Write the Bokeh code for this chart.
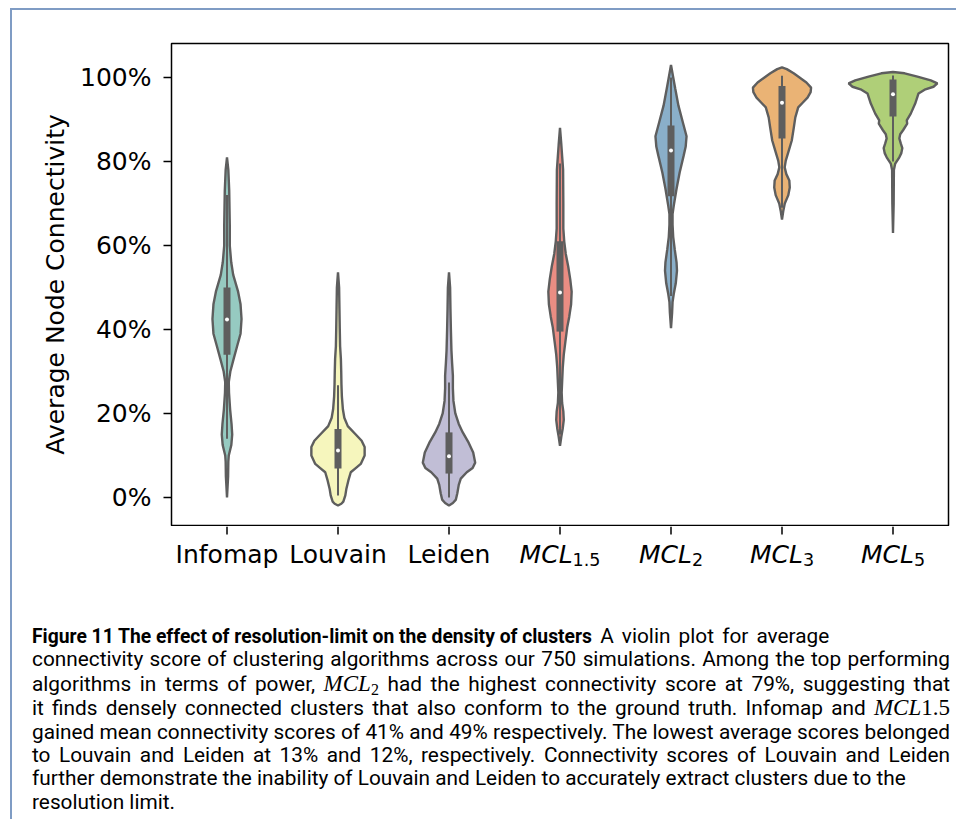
from bokeh.plotting import figure
from bokeh.models import Range1d, FixedTicker, PrintfTickFormatter, Div
from bokeh.layouts import column
from bokeh.core.properties import value
from bokeh.embed import file_html
from bokeh.resources import INLINE

# ---------------- data ----------------
categories = ["Infomap", "Louvain", "Leiden", "MCL", "MCL", "MCL", "MCL"]
subscripts = ["", "", "", "1.5", "2", "3", "5"]
colors = ["#96cac1", "#f6f6bd", "#c1bed6", "#ea8d83", "#8aafc9", "#eab375", "#afcf78"]

# violin outlines: y (%) and half-width (category units)
infomap_y = [81, 78, 73, 65, 60, 56, 53, 49, 46, 42.5, 39, 36, 33, 30, 27.5, 25, 21, 17.5, 15, 12.5, 10, 8.5, 5, 0]
infomap_w = [0, 0.012, 0.02, 0.025, 0.025, 0.038, 0.056, 0.1, 0.122, 0.131, 0.122, 0.091, 0.06, 0.03, 0.016, 0.018, 0.028, 0.041, 0.047, 0.039, 0.016, 0.012, 0.01, 0]
louvain_y = [53.6, 50, 45, 40, 36, 33, 30, 27, 24, 21, 19, 17, 15, 13.5, 12, 10, 8, 7, 6, 4, 2, 0.5, -1, -1.5, -1.9]
louvain_w = [0, 0.01, 0.013, 0.016, 0.019, 0.026, 0.029, 0.031, 0.035, 0.044, 0.057, 0.088, 0.16, 0.213, 0.24, 0.24, 0.205, 0.16, 0.115, 0.093, 0.075, 0.066, 0.048, 0.03, 0]
leiden_y = [53.6, 50, 45, 40, 35, 32, 29, 26, 23, 20, 17.5, 15.5, 13, 10.7, 8.3, 7, 6, 4.5, 3, 1, -0.5, -1.3, -1.9]
leiden_w = [0, 0.01, 0.013, 0.017, 0.022, 0.028, 0.035, 0.035, 0.04, 0.057, 0.088, 0.124, 0.178, 0.218, 0.236, 0.213, 0.16, 0.106, 0.088, 0.075, 0.062, 0.035, 0]
mcl15_y = [88, 84, 81, 78, 70, 64, 61, 58, 55, 52, 49, 46, 43, 40.5, 37, 34, 31, 28, 25, 22.5, 20.5, 18.5, 16.5, 14.5, 12.3]
mcl15_w = [0, 0.012, 0.02, 0.028, 0.03, 0.03, 0.038, 0.052, 0.074, 0.092, 0.105, 0.1, 0.083, 0.065, 0.048, 0.034, 0.025, 0.02, 0.015, 0.019, 0.03, 0.034, 0.025, 0.012, 0]
mcl2_y = [103, 100, 97.4, 93.3, 89, 86, 83.5, 81.4, 77.4, 73.5, 69.5, 67.5, 65, 62, 59, 56, 54, 51, 48.5, 46.5, 44, 40.3]
mcl2_w = [0, 0.02, 0.038, 0.067, 0.11, 0.14, 0.132, 0.114, 0.078, 0.05, 0.025, 0.014, 0.014, 0.02, 0.034, 0.05, 0.054, 0.043, 0.025, 0.014, 0.01, 0]
mcl3_y = [102.4, 102, 101, 100, 98.8, 97.6, 96.5, 95.2, 94, 92.9, 90.5, 88, 85, 82.6, 80.2, 78.6, 77, 75.5, 73.8, 72, 70, 68.3, 66.2]
mcl3_w = [0, 0.043, 0.105, 0.158, 0.22, 0.262, 0.258, 0.23, 0.186, 0.146, 0.12, 0.106, 0.088, 0.061, 0.034, 0.024, 0.039, 0.066, 0.07, 0.057, 0.025, 0.012, 0]
mcl5_y = [101.3, 101, 100.2, 99.3, 98.6, 97.8, 97.2, 96.2, 93.8, 91.4, 89.8, 89, 87.5, 86.5, 85.5, 84.3, 83.2, 82, 81, 79.5, 78, 70, 63]
mcl5_w = [0, 0.105, 0.22, 0.34, 0.4, 0.365, 0.292, 0.23, 0.2, 0.16, 0.124, 0.128, 0.092, 0.065, 0.057, 0.07, 0.084, 0.075, 0.057, 0.02, 0.008, 0.006, 0]

violin_y = [infomap_y, louvain_y, leiden_y, mcl15_y, mcl2_y, mcl3_y, mcl5_y]
violin_w = [infomap_w, louvain_w, leiden_w, mcl15_w, mcl2_w, mcl3_w, mcl5_w]

# inner box statistics (%)
whisker_lo = [14, 0.5, 0, 15, 48, 69, 80]
q1 = [34, 6.9, 5.7, 39.5, 71.7, 85.5, 90.7]
median = [42.4, 11.2, 9.8, 48.8, 82.6, 94, 96]
q3 = [50, 16.3, 15.5, 61, 88.6, 98, 99.5]
whisker_hi = [72, 26.7, 27.4, 79.5, 100, 100.4, 100.5]

y_ticks = [0, 20, 40, 60, 80, 100]

caption_lines = [
    "<b>Figure 11 The effect of resolution-limit on the density of clusters</b><span class='ws'> A violin plot for average</span>",
    "connectivity score of clustering algorithms across our 750 simulations. Among the top performing",
    "algorithms in terms of power, <i class='m'>MCL</i><span class='sb'>2</span> had the highest connectivity score at 79%, suggesting that",
    "it finds densely connected clusters that also conform to the ground truth. Infomap and <i class='m'>MCL</i><span class='m'>1.5</span>",
    "gained mean connectivity scores of 41% and 49% respectively. The lowest average scores belonged",
    "to Louvain and Leiden at 13% and 12%, respectively. Connectivity scores of Louvain and Leiden",
    "further demonstrate the inability of Louvain and Leiden to accurately extract clusters due to the",
    "resolution limit.",
]

# ---------------- main figure ----------------
GRAY = "#5e5e5e"
FONT = "DejaVu Sans"
X_RANGE = Range1d(-0.5, 6.5)

p = figure(width=941, height=516, output_backend="svg", toolbar_location=None,
           x_range=X_RANGE, y_range=Range1d(-6.67, 108.1), x_axis_type=None,
           min_border_left=159, min_border_right=5, min_border_top=33, min_border_bottom=1)
p.grid.visible = False
p.outline_line_color = "black"
p.outline_line_width = 1.5
p.background_fill_color = "white"
p.border_fill_color = "white"

for i in range(len(categories)):
    ys = violin_y[i]
    ws = violin_w[i]
    px = [i + w for w in ws] + [i - w for w in ws[::-1]]
    py = list(ys) + list(ys[::-1])
    p.patch(px, py, fill_color=colors[i], line_color=GRAY, line_width=2.4)

idx = list(range(len(categories)))
p.segment(x0=idx, y0=whisker_lo, x1=idx, y1=whisker_hi, line_color=GRAY, line_width=2)
p.vbar(x=idx, width=0.063, bottom=q1, top=q3, fill_color=GRAY, line_color=None)
p.scatter(x=idx, y=median, size=4, fill_color="white", line_color=None)

ax = p.yaxis[0]
ax.axis_line_color = None
ax.major_tick_line_color = "black"
ax.major_tick_line_width = 1.5
ax.major_tick_out = 8
ax.major_tick_in = 0
ax.minor_tick_line_color = None
ax.ticker = FixedTicker(ticks=y_ticks)
ax.formatter = PrintfTickFormatter(format="%d%%")
ax.major_label_text_font = FONT
ax.major_label_text_color = "black"
ax.major_label_text_font_size = "25px"
ax.major_label_standoff = 12
ax.axis_label = "Average Node Connectivity"
ax.axis_label_text_font = FONT
ax.axis_label_text_font_size = "25px"
ax.axis_label_text_font_style = "normal"
ax.axis_label_text_color = "black"
ax.axis_label_standoff = 7

# ---------------- category axis strip (shares the x scale, y in px below the frame) ----------------
q = figure(width=941, height=59, output_backend="svg", toolbar_location=None,
           x_range=X_RANGE, y_range=Range1d(59, 0), x_axis_type=None, y_axis_type=None,
           min_border_left=159, min_border_right=5, min_border_top=0, min_border_bottom=0)
q.grid.visible = False
q.outline_line_color = None
q.background_fill_color = "white"
q.border_fill_color = "white"

q.segment(x0=idx, y0=[0] * len(idx), x1=idx, y1=[8] * len(idx), line_color="black", line_width=1.5)

MAIN_W = 53.0   # width of italic "MCL" at 25px
plain_x, plain_t = [], []
mcl_x, mcl_t, mcl_off = [], [], []
sub_x, sub_t, sub_off = [], [], []
for i in idx:
    if subscripts[i] == "":
        plain_x.append(i)
        plain_t.append(categories[i])
    else:
        sub_w = 27.8 if len(subscripts[i]) > 1 else 11.0
        start = -(MAIN_W + sub_w) / 2
        mcl_x.append(i); mcl_t.append(categories[i]); mcl_off.append(start)
        sub_x.append(i); sub_t.append(subscripts[i]); sub_off.append(start + MAIN_W)

BASE = 28
q.text(x=plain_x, y=[BASE] * len(plain_x), text=plain_t,
       text_align="center", text_baseline="alphabetic", text_font=value(FONT),
       text_font_size=value("25px"), text_color="black")
q.text(x=mcl_x, y=[BASE] * len(mcl_x), text=mcl_t, x_offset=mcl_off,
       text_align="left", text_baseline="alphabetic", text_font=value(FONT),
       text_font_style=value("italic"), text_font_size=value("25px"), text_color="black")
q.text(x=sub_x, y=[BASE + 5] * len(sub_x), text=sub_t, x_offset=sub_off,
       text_align="left", text_baseline="alphabetic", text_font=value(FONT),
       text_font_size=value("17.5px"), text_color="black")

# ---------------- caption ----------------
css = ("<style>.cap{font-family:Roboto,sans-serif;font-size:20.8px;line-height:23.4px;color:#000;"
       "padding-left:15px;padding-top:35px;}"
       " .cap div{white-space:nowrap;}"
       " .cap div.j{width:918px;text-align:justify;text-align-last:justify;}"
       " .cap b{font-size:19.3px;}"
       " .ws{word-spacing:3px;}"
       " .m{font-family:'Liberation Serif',serif;font-size:23px;}"
       " .sb{font-family:'Liberation Serif',serif;font-size:16px;vertical-align:-4px;line-height:0;}</style>")
rows = []
for k, ln in enumerate(caption_lines):
    cls = " class='j'" if 1 <= k <= 5 else ""
    rows.append("<div%s>%s</div>" % (cls, ln))
html = css + "<div class='cap'>" + "".join(rows) + "</div>"
cap = Div(text=html, width=941)

layout = column(p, q, cap, spacing=0,
                styles={"border-left": "2px solid #7f9cc4", "border-top": "2px solid #7f9cc4",
                        "margin-left": "10px", "margin-top": "8px"})

open("out.html", "w").write(file_html(layout, INLINE))
